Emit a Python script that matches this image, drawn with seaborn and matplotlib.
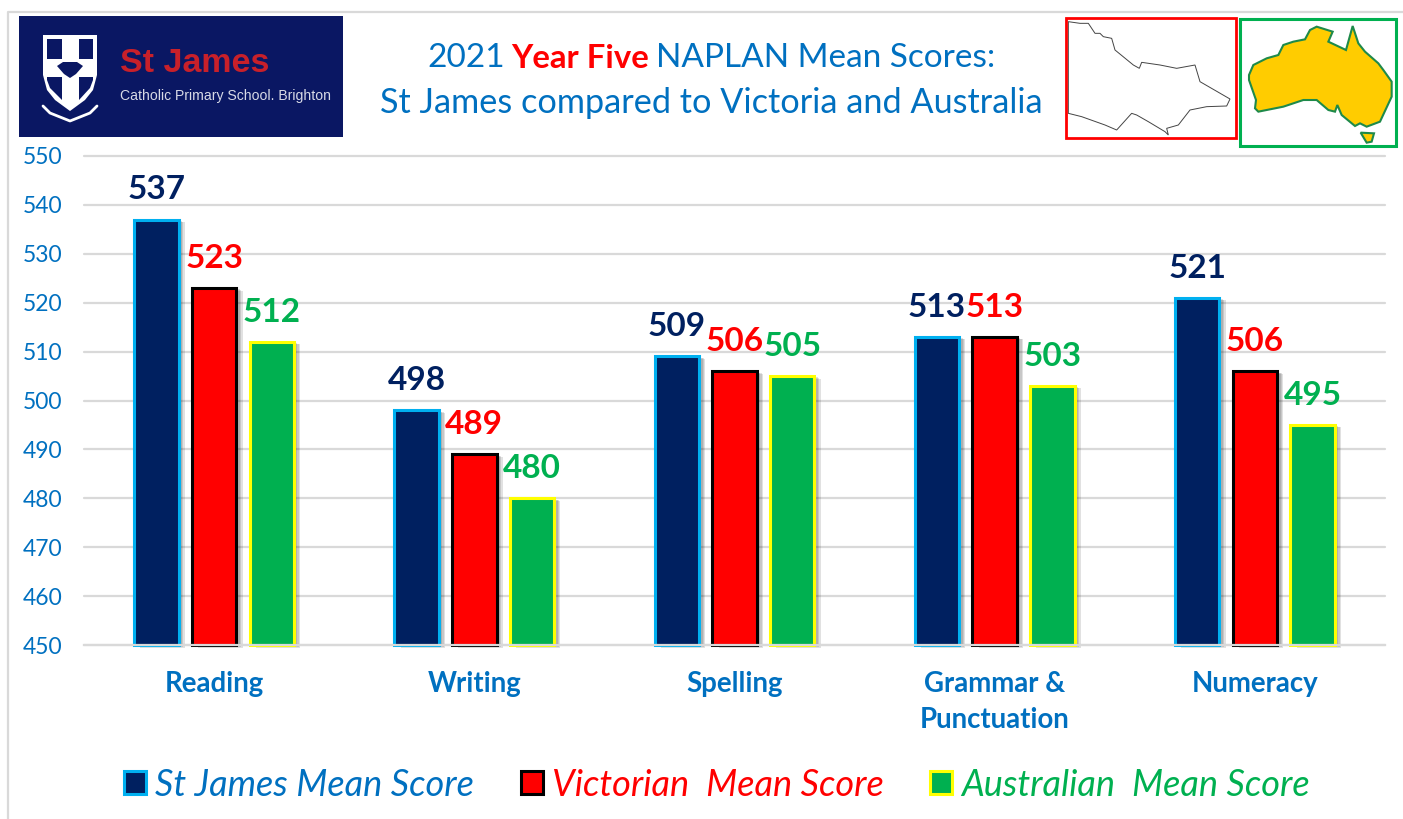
import pandas as pd
import matplotlib.pyplot as plt
import matplotlib.patheffects as pe
from matplotlib.patches import Rectangle, Polygon
import seaborn as sns

#%% data
subjects = ['Reading', 'Writing', 'Spelling', 'Grammar &\nPunctuation', 'Numeracy']
st_james = [537, 498, 509, 513, 521]
victoria = [523, 489, 506, 513, 506]
australia = [512, 480, 505, 503, 495]
yticks = [450, 460, 470, 480, 490, 500, 510, 520, 530, 540, 550]
series = ['St James Mean Score', 'Victorian  Mean Score', 'Australian  Mean Score']

navy = '#002060'
red = '#FF0000'
green = '#00B050'
blue = '#0070C0'
grey = '#D9D9D9'
fills = [navy, red, green]
edges = ['#00B0F0', '#000000', '#FFFF00']
text_cols = [blue, red, green]

df = pd.DataFrame({'subject': subjects, series[0]: st_james, series[1]: victoria, series[2]: australia})
df = df.melt(id_vars='subject', var_name='series', value_name='score')

#%% chart
W, H = 1403, 819
sns.set_theme(style='white')
plt.rcParams['font.family'] = ['Lato', 'DejaVu Sans']

fig = plt.figure(figsize=(W / 100, H / 100), dpi=100)
ax = fig.add_axes([84 / W, 1 - 645 / H, (1385 - 84) / W, (645 - 156) / H])

sns.barplot(data=df, x='subject', y='score', hue='series', hue_order=series,
            palette=fills, saturation=1, width=0.665, gap=0.23, ax=ax, legend=False, zorder=3)
ax.set(ylim=(450, 550), xlim=(-0.5, 4.5), xlabel='', ylabel='')
ax.set_yticks(yticks)
ax.grid(axis='y', color=grey, lw=1.6, zorder=0, clip_on=False)
ax.grid(axis='x', visible=False)
sns.despine(ax=ax, left=True, top=True, right=True)
ax.spines['bottom'].set_color(grey)
ax.spines['bottom'].set_linewidth(1.6)
ax.spines['bottom'].set_zorder(4)  # floor line runs over the bar bases
ax.tick_params(axis='y', length=0, pad=15.5, labelsize=16.5, labelcolor=blue)
ax.tick_params(axis='x', length=0, pad=19, labelsize=19.9, labelcolor=blue)
for lab in ax.get_xticklabels():
    lab.set_fontweight('bold')
    lab.set_linespacing(1.47)

# soft shadow to the lower right of each bar
shadow = [pe.SimplePatchShadow(offset=(d, -d * 0.4), shadow_rgbFace='k', alpha=0.13) for d in (4.5, 3.5, 2.5)]
for cont, ec, col in zip(ax.containers, edges, fills):
    for bar in cont:
        # bars start at the axis floor so the edge shows along the base
        bar.set_height(bar.get_height() - 450)
        bar.set_y(450)
        bar.set_edgecolor(ec)
        bar.set_linewidth(2.2)
        bar.set_clip_on(False)
        bar.set_path_effects(shadow + [pe.Normal()])
    ax.bar_label(cont, labels=[str(int(v)) for v in cont.datavalues], padding=11,
                 color=col, fontsize=24, fontweight='bold')

#%% overlay in pixel coords for the header pictures, title and legend
ov = fig.add_axes([0, 0, 1, 1], zorder=5)
ov.set(xlim=(0, W), ylim=(H, 0))
ov.axis('off')
ov.patch.set_alpha(0)

# page border
ov.plot([8, 8, W], [H, 12, 12], color=grey, lw=1.6)

# school logo
ov.add_patch(Rectangle((19, 16), 324, 121, fc='#0A1763', ec='none'))
shield = [(43, 35), (97, 35), (97, 75), (93, 90), (85, 100), (70, 111), (55, 100), (47, 90), (43, 75)]
ov.add_patch(Polygon(shield, fc='white', ec='none'))
for p in ([(47, 39), (62, 39), (62, 59), (47, 59)],
          [(79, 39), (93, 39), (93, 59), (79, 59)],
          [(47, 77), (62, 77), (62, 100), (50, 88), (47, 80)],
          [(79, 77), (93, 77), (93, 80), (90, 88), (79, 100)],
          [(57, 66), (63, 62), (77, 62), (83, 66), (76, 74), (70, 78), (64, 74)]):
    ov.add_patch(Polygon(p, fc='#0A1763', ec='none'))
ov.plot([43, 50, 70, 90, 97], [106, 113, 121, 113, 106], color='white', lw=2)
ov.text(120, 63, 'St James', color='#C8202A', family='Liberation Sans', fontweight='bold', fontsize=24.5, va='center')
ov.text(120, 96, 'Catholic Primary School. Brighton', color='#D8DAE6', family='Liberation Sans', fontsize=10.1, va='center')

# title
ov.text(427, 58, '2021', color=blue, fontsize=24, va='center')
ov.text(511, 58, 'Year Five', color=red, fontsize=23.7, fontweight='bold', va='center')
ov.text(656, 58, 'NAPLAN Mean Scores:', color=blue, fontsize=24, va='center')
ov.text(711, 103, 'St James compared to Victoria and Australia', color=blue, fontsize=24.7, va='center', ha='center')

# victoria map
def z2(pts):
    return [(1050 + x / 3, y / 3) for x, y in pts]

vic = [(55, 65), (90, 70), (115, 70), (135, 100), (150, 100), (160, 110), (185, 115), (195, 150), (250, 195), (268, 205),
       (275, 187), (330, 195), (380, 205), (435, 195), (450, 245), (540, 297), (530, 318), (470, 320),
       (420, 330), (385, 375), (350, 385), (355, 405), (345, 395), (320, 380), (295, 365), (260, 345),
       (245, 340), (200, 390), (165, 375), (95, 350), (55, 340)]
ov.add_patch(Polygon(z2(vic), fc='white', ec='#444444', lw=0.7))
ov.add_patch(Polygon(z2([(48, 55), (557, 55), (557, 415), (48, 415)]), fc='none', ec=red, lw=2))

# australia map
aus = [(597, 225), (610, 195), (650, 175), (685, 165), (700, 135), (730, 125), (765, 118), (780, 90),
       (800, 80), (848, 95), (835, 125), (888, 150), (908, 78), (925, 130), (945, 155), (985, 190),
       (1000, 210), (1025, 245), (1025, 290), (990, 365), (950, 380), (930, 370), (915, 378), (875, 345),
       (862, 315), (855, 335), (835, 330), (800, 300), (760, 300), (700, 320), (625, 335), (615, 325),
       (618, 300), (597, 240)]
tas = [(932, 398), (972, 400), (965, 425), (950, 428)]
ov.add_patch(Polygon(z2(aus), fc='#FFCC00', ec='#1E8A4A', lw=1.5))
ov.add_patch(Polygon(z2(tas), fc='#FFCC00', ec='#1E8A4A', lw=1.5))
ov.add_patch(Polygon(z2([(571, 57), (1038, 57), (1038, 438), (571, 438)]), fc='none', ec=green, lw=2.2))

# legend
handles = [Rectangle((0, 0), 1, 1, fc=f, ec=e, lw=2.2) for f, e in zip(fills, edges)]
leg = fig.legend(handles, series, ncol=3, loc='center', bbox_to_anchor=(717 / W, 1 - 785 / H), frameon=False,
                 labelcolor=text_cols, prop={'size': 26, 'style': 'italic'}, handlelength=0.6, handleheight=0.6,
                 handletextpad=0.25, columnspacing=1.3)
leg.set_zorder(6)

fig.savefig('out.png', dpi=100)
